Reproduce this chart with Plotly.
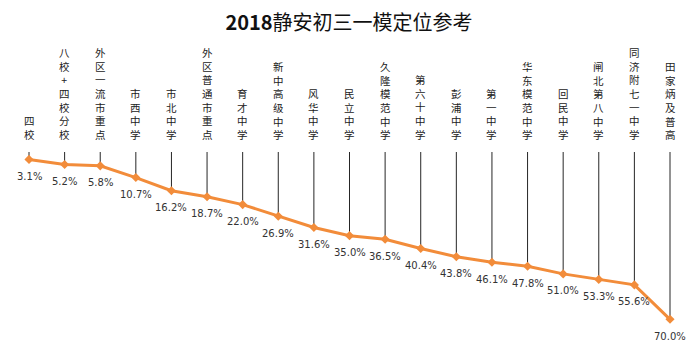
import plotly.graph_objects as go

schools = ["四校", "八校+四校分校", "外区一流市重点", "市西中学", "市北中学", "外区普通市重点",
           "育才中学", "新中高级中学", "风华中学", "民立中学", "久隆模范中学", "第六十中学",
           "彭浦中学", "第一中学", "华东模范中学", "回民中学", "闸北第八中学", "同济附七一中学",
           "田家炳及普高"]
values = [3.1, 5.2, 5.8, 10.7, 16.2, 18.7, 22.0, 26.9, 31.6, 35.0, 36.5, 40.4,
          43.8, 46.1, 47.8, 51.0, 53.3, 55.6, 70.0]
title_text = "<b>2018</b>静安初三一模定位参考"

ORANGE = "#F28C3A"
PAGE_OFF = 8          # default body margin of the html page
W, H = 700 - PAGE_OFF, 355 - PAGE_OFF
TOP, BOT = 152 - PAGE_OFF, 12
PX_PER_UNIT = 2.39
ymax = (H - TOP - BOT) / PX_PER_UNIT

# drop lines from 0 to each value
dx, dy = [], []
for s, v in zip(schools, values):
    dx += [s, s, None]
    dy += [0, v, None]

fig = go.Figure()
fig.add_trace(go.Scatter(x=dx, y=dy, mode="lines",
                         line=dict(color="#262626", width=1),
                         hoverinfo="skip", showlegend=False))
fig.add_trace(go.Scatter(x=schools, y=values, mode="lines+markers",
                         line=dict(color=ORANGE, width=3),
                         marker=dict(symbol="diamond", size=7, color=ORANGE),
                         cliponaxis=False, showlegend=False))

annotations = []
# value labels under the points
for s, v in zip(schools, values):
    annotations.append(dict(x=s, y=v, xref="x", yref="y", text=f"{v:.1f}%",
                            showarrow=False, xanchor="center", yanchor="middle",
                            yshift=-17,
                            font=dict(family="DejaVu Sans", size=10, color="#333333")))

# vertical category labels (characters stacked with line breaks)
for s in schools:
    annotations.append(dict(x=s, y=1, xref="x", yref="paper",
                            text="<br>".join(list(s)), showarrow=False,
                            yanchor="bottom", xanchor="center", yshift=9,
                            borderpad=0,
                            font=dict(family="Noto Sans CJK SC", size=10.5,
                                      color="#222222")))

n = len(schools)
unit = 641 / (n - 1)
fig.update_layout(
    width=W, height=H,
    margin=dict(l=0, r=0, t=TOP, b=BOT),
    paper_bgcolor="white", plot_bgcolor="white",
    title=dict(text=title_text, x=(349 - PAGE_OFF) / W, xanchor="center",
               y=1 - (23 - PAGE_OFF) / H, yanchor="middle",
               font=dict(family="Noto Sans CJK SC", size=20, color="#111111")),
    xaxis=dict(range=[-(29 - PAGE_OFF) / unit, (n - 1) + 30 / unit], showticklabels=False,
               showgrid=False, zeroline=False, showline=False, ticks=""),
    yaxis=dict(range=[ymax, 0], showticklabels=False, showgrid=False,
               zeroline=False, showline=False, ticks=""),
    annotations=annotations,
    showlegend=False,
)

fig.write_html("out.html")
